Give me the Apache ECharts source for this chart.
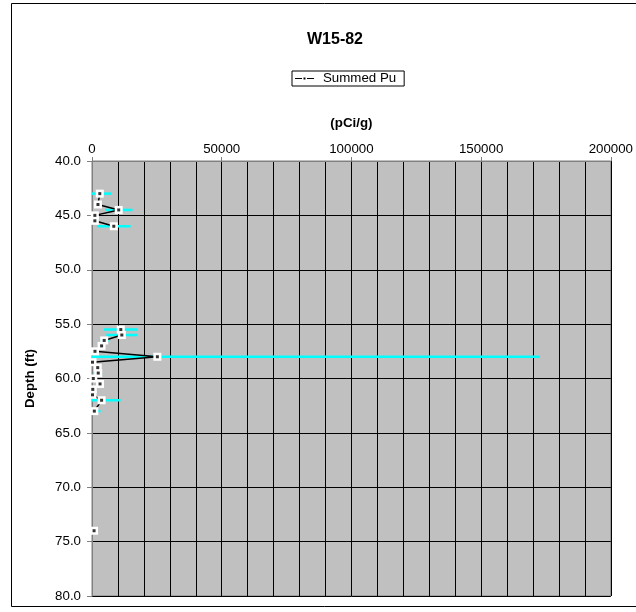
<!DOCTYPE html>
<html>
<head>
<meta charset="utf-8">
<script src="https://cdn.jsdelivr.net/npm/echarts@6/dist/echarts.min.js"></script>
<style>
html,body{margin:0;padding:0;background:#fff;}
#c{width:636px;height:612px;}
</style>
</head>
<body>
<div id="c"></div>
<script>
// Depth (ft) of each sample; null marks a break in the line
const depthFt = [43.0, 44.0, 44.5, 45.0, 45.5, 46.0, null, 55.5, 56.0, 56.5, 57.0, 57.5, 58.0, 58.5, 59.0, 59.5, 60.0, 60.5, 61.0, 61.5, 62.0, 63.0, null, 74.0];
// Summed Pu (pCi/g)
const summedPu = [3000, 2300, 10300, 1100, 1100, 8400, null, 11100, 11500, 4700, 3700, 1150, 25200, 200, 2200, 2400, 500, 3100, 300, 200, 3700, 900, null, 800];
// Error (+/-) on Summed Pu (pCi/g)
const errPu = [4500, 600, 5300, 800, 1500, 6500, null, 6500, 6000, 1800, 1000, 1000, 147500, 800, 600, 1500, 500, 1200, 500, 500, 7300, 2400, null, 800];

const xTicks = [0, 50000, 100000, 150000, 200000];
const yTicks = [40, 45, 50, 55, 60, 65, 70, 75, 80];

const lineData = depthFt.map((d, i) => (d === null || summedPu[i] === null) ? ['-', '-'] : [summedPu[i], d]);
const pts = depthFt.map((d, i) => [summedPu[i], d, errPu[i]]).filter(p => p[0] !== null && p[1] !== null);

const chart = echarts.init(document.getElementById('c'), null, {renderer: 'canvas'});
const font = '"Liberation Sans", Arial, sans-serif';

chart.setOption({
  animation: false,
  backgroundColor: '#fff',
  textStyle: {fontFamily: font},
  title: {
    text: 'W15-82', left: 330, top: 27, textAlign: 'center',
    textStyle: {fontSize: 16, fontWeight: 'bold', color: '#000', fontFamily: font}
  },
  legend: {
    left: 292, top: 71,
    data: [{
      name: 'Summed Pu',
      icon: 'path://M0,4H7V5.2H0Z M8.5,3.6H10.5V5.6H8.5Z M12,4H19V5.2H12Z',
      itemStyle: {color: '#000', borderWidth: 0}
    }],
    itemWidth: 19, itemHeight: 9, itemGap: 4,
    borderColor: '#000', borderWidth: 1, padding: [1, 8, 1, 3],
    textStyle: {fontSize: 13.3, color: '#000', fontFamily: font, padding: [0, 0, 0, 4]}
  },
  graphic: [{
    type: 'rect', shape: {x: 11.5, y: 3.5, width: 700, height: 603}, silent: true,
    style: {fill: null, stroke: '#000', lineWidth: 1}, z: -1
  }],
  grid: {
    left: 92, right: 23, top: 161, bottom: 16,
    show: true, backgroundColor: '#C0C0C0', borderColor: '#808080', borderWidth: 1
  },
  xAxis: {
    type: 'value', position: 'top', min: xTicks[0], max: xTicks[xTicks.length - 1], interval: 50000,
    name: '(pCi/g)', nameLocation: 'middle', nameGap: 31,
    nameTextStyle: {fontSize: 13.3, fontWeight: 'bold', color: '#000', fontFamily: font},
    axisLine: {show: true, lineStyle: {color: '#808080'}},
    axisTick: {show: true, length: 4, lineStyle: {color: '#808080'}},
    axisLabel: {fontSize: 13.3, color: '#000', margin: 5, formatter: v => String(v), fontFamily: font},
    splitLine: {show: true, lineStyle: {color: '#000', width: 1}},
    minorTick: {show: false, splitNumber: 5},
    minorSplitLine: {show: true, lineStyle: {color: '#000', width: 1}}
  },
  yAxis: {
    type: 'value', inverse: true, min: yTicks[0], max: yTicks[yTicks.length - 1], interval: 5,
    name: 'Depth (ft)', nameLocation: 'middle', nameGap: 55, nameRotate: 90,
    nameTextStyle: {fontSize: 13.3, fontWeight: 'bold', color: '#000', fontFamily: font},
    axisLine: {show: true, lineStyle: {color: '#808080'}},
    axisTick: {show: true, length: 5, lineStyle: {color: '#808080'}},
    axisLabel: {fontSize: 13.3, color: '#000', margin: 11, formatter: v => v.toFixed(1), fontFamily: font},
    splitLine: {show: true, lineStyle: {color: '#000', width: 1}}
  },
  series: [
    {
      type: 'custom', name: 'err', silent: true, clip: true, z: 2,
      data: pts, encode: {x: 0, y: 1},
      renderItem: function (params, api) {
        const v = api.value(0), d = api.value(1), e = api.value(2);
        const a = api.coord([v - e, d]);
        const b = api.coord([v + e, d]);
        return {
          type: 'line',
          shape: {x1: a[0], y1: a[1], x2: b[0], y2: b[1]},
          style: {stroke: '#00FFFF', lineWidth: 2.5}
        };
      }
    },
    {
      type: 'line', name: 'Summed Pu', z: 3,
      data: lineData, connectNulls: false,
      symbol: 'rect', symbolSize: 8, showAllSymbol: true,
      itemStyle: {color: '#fff', borderWidth: 0},
      lineStyle: {color: '#000', width: 1.5}
    },
    {
      type: 'scatter', name: 'mk', silent: true, z: 4,
      data: pts.map(p => [p[0], p[1]]),
      symbol: 'rect', symbolSize: 3,
      itemStyle: {color: '#000'}
    }
  ]
});
</script>
</body>
</html>
